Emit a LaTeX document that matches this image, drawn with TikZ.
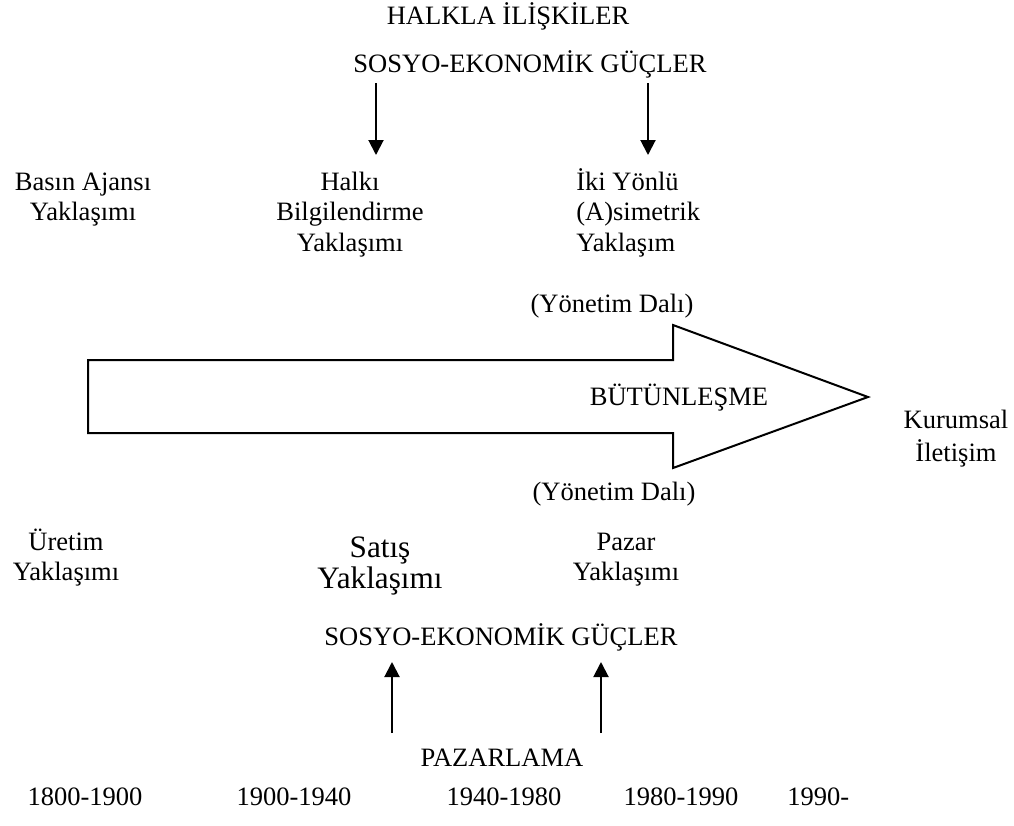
\documentclass[tikz,border=0pt]{standalone}
\usepackage{fontspec}
\setmainfont{Liberation Serif}
\usetikzlibrary{arrows.meta}
\newcommand\labelstack[2][c]{\begin{tabular}[t]{@{}#1@{}}#2\end{tabular}}
\begin{document}
\begin{tikzpicture}[x=0.75pt,y=-0.75pt,
  lbl/.style={anchor=base,inner sep=0pt,font=\fontsize{19.9}{23}\selectfont},
  biglbl/.style={anchor=base,inner sep=0pt,font=\fontsize{23.4}{23.25}\selectfont},
  force/.style={line width=1.5pt,-{Triangle[length=11.25pt,width=11.25pt]}},
  bigarrow/.style={line width=1.5pt,line join=miter}]
\useasboundingbox (0,0) rectangle (1014,825);

% top: public relations side
\node[lbl] (hi) at (508,24) {HALKLA İLİŞKİLER};
\node[lbl] (sg1) at (530,72) {SOSYO-EKONOMİK GÜÇLER};
\coordinate (d1s) at (376,83);
\coordinate (d1e) at (376,155);
\coordinate (d2s) at (648,83);
\coordinate (d2e) at (648,155);
\draw[force] (d1s) -- (d1e);
\draw[force] (d2s) -- (d2e);

\node[lbl] (basin) at (83,190) {\labelstack{Basın Ajansı\\Yaklaşımı}};
\node[lbl] (halki) at (350,190) {\labelstack{Halkı\\Bilgilendirme\\Yaklaşımı}};
\node[lbl,anchor=base west] (iki) at (576,190) {\labelstack[l]{İki Yönlü\\(A)simetrik\\Yaklaşım}};

\node[lbl] (yd1) at (612,312) {(Yönetim Dalı)};

% integration arrow
\draw[bigarrow] (88,360) -- (673,360) -- (673,325) -- (868,397)
  -- (673,468) -- (673,433) -- (88,433) -- cycle;
\node[lbl] (bt) at (679,405) {BÜTÜNLEŞME};
\node[lbl,font=\fontsize{19.9}{25}\selectfont] (ki) at (956,428) {\labelstack{Kurumsal\\İletişim}};

\node[lbl] (yd2) at (614,500) {(Yönetim Dalı)};

% bottom: marketing side
\node[lbl] (uretim) at (66,550) {\labelstack{Üretim\\Yaklaşımı}};
\node[biglbl] (satis) at (380,557) {\labelstack{Satış\\Yaklaşımı}};
\node[lbl] (pazar) at (626,550) {\labelstack{Pazar\\Yaklaşımı}};

\node[lbl] (sg2) at (501,645) {SOSYO-EKONOMİK GÜÇLER};
\coordinate (u1s) at (392,733);
\coordinate (u1e) at (392,662);
\coordinate (u2s) at (601,733);
\coordinate (u2e) at (601,662);
\draw[force] (u1s) -- (u1e);
\draw[force] (u2s) -- (u2e);
\node[lbl] (pz) at (502,766) {PAZARLAMA};

% time line
\node[lbl] (t1) at (85,805) {1800-1900};
\node[lbl] (t2) at (294,805) {1900-1940};
\node[lbl] (t3) at (504,805) {1940-1980};
\node[lbl] (t4) at (681,805) {1980-1990};
\node[lbl,anchor=base west] (t5) at (787,805) {1990-};
\end{tikzpicture}
\end{document}
